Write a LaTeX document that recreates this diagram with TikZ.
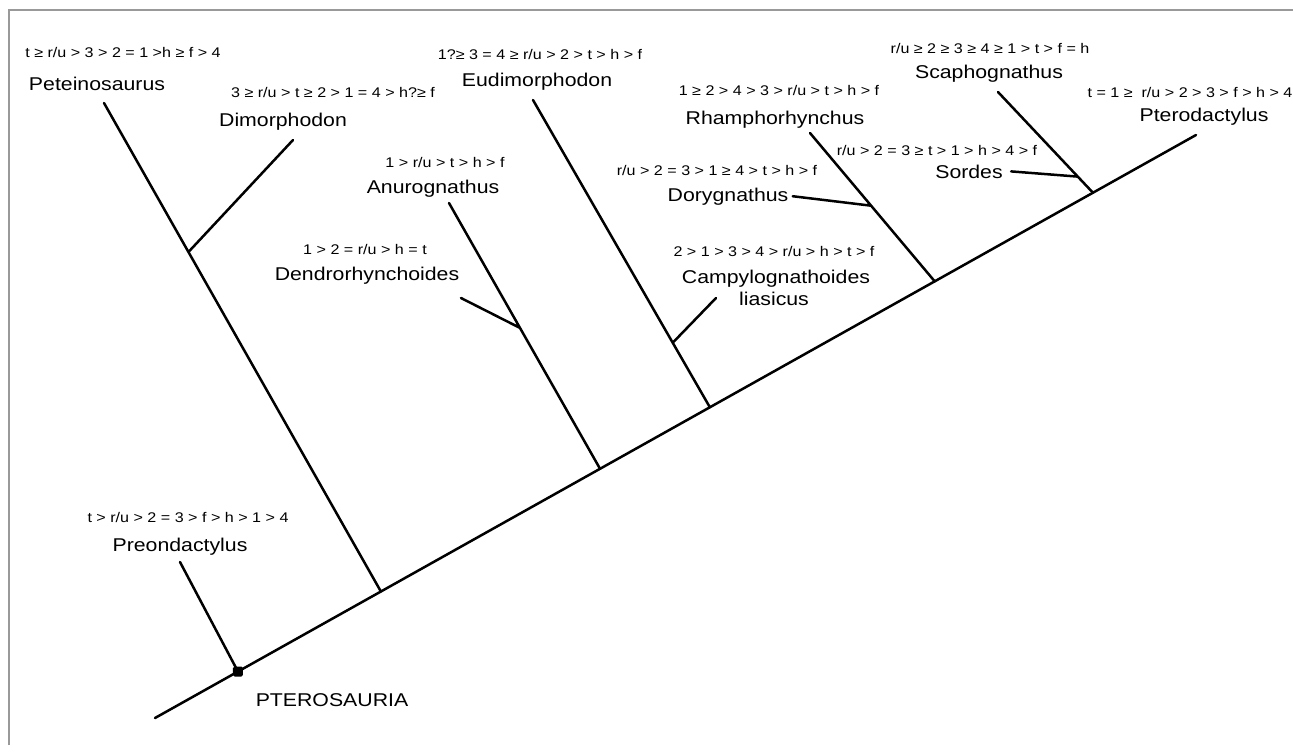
\documentclass[tikz,border=0pt]{standalone}
\usepackage{fontspec}
\setmainfont{Liberation Sans}[FakeStretch=1.15]
\usetikzlibrary{calc}

\begin{document}
\begin{tikzpicture}[x=0.5pt, y=-0.5pt,
    branch/.style={line width=1.25pt, line cap=round},
    taxon/.style={inner sep=0pt, anchor=base, font=\fontsize{9.25}{11}\selectfont},
    order/.style={inner sep=0pt, anchor=base, font=\fontsize{7}{8.4}\selectfont}]
    \useasboundingbox (0,0) rectangle (1293,751);
    % frame, top and left side only
    \draw[gray!80, line width=0.8pt] (9,745) -- (9,10) -- (1293,10);
    % the main axis
    \coordinate (root) at (155,718);
    \coordinate (tip) at (1196,135);
    \draw[branch] (root) -- (tip);
    % where the branches leave the axis
    \coordinate (preoBase)   at ($(root)!0.0797!(tip)$);
    \coordinate (peteBase)   at ($(root)!0.217!(tip)$);
    \coordinate (anuroBase)  at ($(root)!0.4275!(tip)$);
    \coordinate (eudiBase)   at ($(root)!0.533!(tip)$);
    \coordinate (rhampBase)  at ($(root)!0.749!(tip)$);
    \coordinate (scaphBase)  at ($(root)!0.901!(tip)$);
    % free ends of the branches
    \coordinate (preoTop)   at (180,562);
    \coordinate (peteTop)   at (104,103);
    \coordinate (dimoTip)   at (293,140);
    \coordinate (anuroTop)  at (449,203);
    \coordinate (dendroEnd) at (461,298);
    \coordinate (eudiTop)   at (533,100);
    \coordinate (campyEnd)  at (716,298);
    \coordinate (rhampTop)  at (810,133);
    \coordinate (scaphTop)  at (998,92);
    % side branches join here
    \coordinate (dimoJoin)   at ($(peteBase)!0.695!(peteTop)$);
    \coordinate (dendroJoin) at ($(anuroBase)!0.53!(anuroTop)$);
    \coordinate (campyJoin)  at ($(eudiBase)!0.21!(eudiTop)$);
    \coordinate (doryJoin)   at ($(rhampBase)!0.51!(rhampTop)$);
    \coordinate (sordesJoin) at ($(scaphBase)!0.16!(scaphTop)$);
    % taxa with their orderings
    \node[order] (preoF) at (188,522) {t > r/u > 2 = 3 > f > h > 1 > 4};
    \node[taxon] (preo) at (180,551) {Preondactylus};
    \node[order] (peteF) at (123,57) {t ≥ r/u > 3 > 2 = 1 >h ≥ f > 4};
    \node[taxon] (pete) at (97,90) {Peteinosaurus};
    \node[order] (dimoF) at (333,97) {3 ≥ r/u > t ≥ 2 > 1 = 4 > h?≥ f};
    \node[taxon] (dimo) at (283,126) {Dimorphodon};
    \node[order] (anuroF) at (445,167) {1 > r/u > t > h > f};
    \node[taxon] (anuro) at (433,193) {Anurognathus};
    \node[order] (dendroF) at (365,254) {1 > 2 = r/u > h = t};
    \node[taxon] (dendro) at (367,280) {Dendrorhynchoides};
    \node[order] (eudiF) at (540,59) {1?≥ 3 = 4 ≥ r/u > 2 > t > h > f};
    \node[taxon] (eudi) at (537,86) {Eudimorphodon};
    \node[order] (campyF) at (774,256) {2 > 1 > 3 > 4 > r/u > h > t > f};
    \node[taxon] (campy) at (776,283) {Campylognathoides};
    \node[taxon] (campyB) at (774,305) {liasicus};
    \node[order] (rhampF) at (779,95) {1 ≥ 2 > 4 > 3 > r/u > t > h > f};
    \node[taxon] (rhamp) at (775,124) {Rhamphorhynchus};
    \node[order] (doryF) at (717,175) {r/u > 2 = 3 > 1 ≥ 4 > t > h > f};
    \node[taxon] (dory) at (728,201) {Dorygnathus};
    \node[order] (sordesF) at (937,155) {r/u > 2 = 3 ≥ t > 1 > h > 4 > f};
    \node[taxon] (sordes) at (969,178) {Sordes};
    \node[order] (scaphF) at (990,53) {r/u ≥ 2 ≥ 3 ≥ 4 ≥ 1 > t > f = h};
    \node[taxon] (scaph) at (989,78) {Scaphognathus};
    \node[order] (pteroF) at (1190,97) {t = 1 ≥\ \ r/u > 2 > 3 > f > h > 4};
    \node[taxon] (ptero) at (1204,121) {Pterodactylus};
    \node[taxon] (ptera) at (332,706) {PTEROSAURIA};
    % the branches
    \draw[branch] (preoTop) -- (preoBase)
                  (peteTop) -- (peteBase)
                  (dimoJoin) -- (dimoTip)
                  (anuroTop) -- (anuroBase)
                  (dendroEnd) -- (dendroJoin)
                  (eudiTop) -- (eudiBase)
                  (campyEnd) -- (campyJoin)
                  (rhampTop) -- (rhampBase)
                  ([xshift=2]dory.east) -- (doryJoin)
                  (scaphTop) -- (scaphBase)
                  ([xshift=4]sordes.east) -- (sordesJoin);
    % root marker
    \node[fill=black, inner sep=0pt, minimum size=5pt, rounded corners=0.8pt] (rootDot) at (preoBase) {};

\end{tikzpicture}
\end{document}
